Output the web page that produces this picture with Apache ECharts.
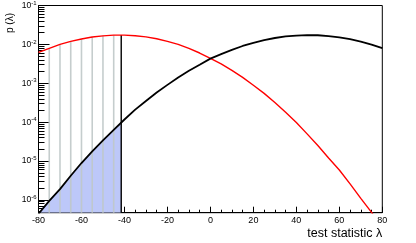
<!DOCTYPE html>
<html>
<head>
<meta charset="utf-8">
<script src="https://cdn.jsdelivr.net/npm/echarts@6/dist/echarts.min.js"></script>
<style>
html,body{margin:0;padding:0;background:#fff;}
#c{width:416px;height:243px;}
</style>
</head>
<body>
<div id="c"></div>
<script>
// test statistic values (x)
const xs = [-80,-75,-70,-65,-60,-55,-50,-45,-40,-35,-30,-25,-20,-15,-10,-5,0,5,10,15,20,25,30,35,40,45,50,55,60,65,70,75,80];
// red curve p(lambda)
const redP = [6.2e-3,7.9e-3,1.0e-2,1.2e-2,1.38e-2,1.55e-2,1.66e-2,1.73e-2,1.73e-2,1.67e-2,1.56e-2,1.40e-2,1.2e-2,1.0e-2,7.9e-3,6.0e-3,4.4e-3,3.15e-3,2.15e-3,1.42e-3,8.9e-4,5.5e-4,3.2e-4,1.8e-4,9.8e-5,5.0e-5,2.5e-5,1.2e-5,5.9e-6,2.6e-6,1.1e-6,4.8e-7,1.9e-7];
// black curve p(lambda)
const blackP = [4.4e-7,9.5e-7,1.9e-6,4.2e-6,8.9e-6,1.78e-5,3.4e-5,6.3e-5,1.17e-4,2.1e-4,3.5e-4,5.8e-4,9.1e-4,1.41e-3,2.1e-3,3.0e-3,4.3e-3,5.6e-3,7.2e-3,9.1e-3,1.10e-2,1.29e-2,1.46e-2,1.60e-2,1.69e-2,1.74e-2,1.72e-2,1.64e-2,1.52e-2,1.36e-2,1.18e-2,9.9e-3,8.0e-3];
// observed value and curve values there
const obsX = -41.5;
const obsBlack = 1.0e-4;
const obsRed = 1.74e-2;
// vertical hatch lines under red curve
const hatchX = [-75,-70,-65,-60,-55,-50,-45];
const hatchTop = [7.9e-3,1.0e-2,1.2e-2,1.38e-2,1.55e-2,1.66e-2,1.73e-2];
// axis ranges
const xMin = -80, xMax = 80, xStep = 20;
const yMin = 4.7e-7, yMax = 0.1;
const minorMult = [2,3,4,5,6,7,8,9];
const minorDecades = [-7,-6,-5,-4,-3,-2];

const minorTicks = [];
minorDecades.forEach(d => minorMult.forEach(m => {
  const v = Math.log10(m) + d;
  if (v >= Math.log10(yMin) && v <= Math.log10(yMax)) minorTicks.push(v);
}));

const redData = xs.map((x,i) => [x, redP[i]]);
const blackData = xs.map((x,i) => [x, blackP[i]]);
const areaData = xs.map((x,i) => [x, blackP[i]]).filter(d => d[0] <= obsX);
areaData.push([obsX, obsBlack]);
const hatchData = hatchX.map((x,i) => [x, hatchTop[i]]);

const chart = echarts.init(document.getElementById('c'), null, {renderer:'canvas'});
const FONT = 'Liberation Sans';
chart.setOption({
  animation: false,
  grid: {left: 38.5, right: 33.7, top: 4.7, bottom: 30.3, show: true, borderColor: '#000', borderWidth: 1, backgroundColor: 'transparent'},
  xAxis: {
    type: 'value', min: xMin, max: xMax, interval: xStep,
    axisLine: {onZero: false, lineStyle: {color: '#000', width: 1}},
    axisTick: {inside: true, length: 6, lineStyle: {color: '#000'}},
    minorTick: {show: true, splitNumber: 4, length: 3, lineStyle: {color: '#000'}},
    splitLine: {show: false},
    axisLabel: {color: '#000', fontSize: 9, fontFamily: FONT, margin: 3},
    name: 'test statistic λ', nameLocation: 'end', nameGap: 0,
    nameTextStyle: {align: 'right', verticalAlign: 'top', padding: [14, 0, 0, 0], fontSize: 12.5, fontFamily: FONT, color: '#000'}
  },
  yAxis: [{
    type: 'log', logBase: 10, min: yMin, max: yMax,
    axisLine: {onZero: false, lineStyle: {color: '#000', width: 1}},
    axisTick: {inside: true, length: 11, lineStyle: {color: '#000'}},
    splitLine: {show: false},
    axisLabel: {
      showMinLabel: false, margin: 2, color: '#000', fontFamily: FONT,
      formatter: v => '{b|10}{s|' + Math.round(Math.log10(v)) + '}',
      rich: {b: {fontSize: 8.5, fontFamily: FONT, color: '#000'}, s: {fontSize: 6, fontFamily: FONT, color: '#000', padding: [0, 0, 5, 0]}}
    }
  }, {
    type: 'value', min: Math.log10(yMin), max: Math.log10(yMax), position: 'left',
    axisLine: {show: false, onZero: false},
    axisTick: {show: true, inside: true, length: 6, customValues: minorTicks, lineStyle: {color: '#000'}},
    axisLabel: {show: false},
    splitLine: {show: false}
  }],
  graphic: [{
    type: 'text', x: 10.5, y: 13, rotation: Math.PI / 2,
    style: {text: 'p (λ)', align: 'right', verticalAlign: 'middle', fontSize: 10, fontFamily: FONT, fill: '#000'}
  }],
  series: [{
    type: 'line', data: areaData, symbol: 'none', z: 1,
    lineStyle: {width: 0}, areaStyle: {color: '#bdc8f9', opacity: 1, origin: 'start'}
  }, {
    type: 'custom', data: hatchData, z: 2,
    renderItem: (params, api) => {
      const t = api.coord([api.value(0), api.value(1)]);
      const b = api.coord([api.value(0), yMin]);
      return {type: 'line', shape: {x1: t[0], y1: t[1], x2: b[0], y2: b[1]}, style: {stroke: '#bfc8c8', lineWidth: 1.6, opacity: 0.9}};
    }
  }, {
    type: 'custom', data: [[obsX, obsRed]], z: 3,
    renderItem: (params, api) => {
      const t = api.coord([api.value(0), api.value(1)]);
      const b = api.coord([api.value(0), yMin]);
      return {type: 'line', shape: {x1: t[0], y1: t[1], x2: b[0], y2: b[1]}, style: {stroke: '#000', lineWidth: 1.4}};
    }
  }, {
    type: 'line', data: redData, symbol: 'none', z: 4, clip: true,
    lineStyle: {color: '#ff0000', width: 1.4}
  }, {
    type: 'line', data: blackData, symbol: 'none', z: 5, clip: true,
    lineStyle: {color: '#000', width: 1.8}
  }]
});
</script>
</body>
</html>
